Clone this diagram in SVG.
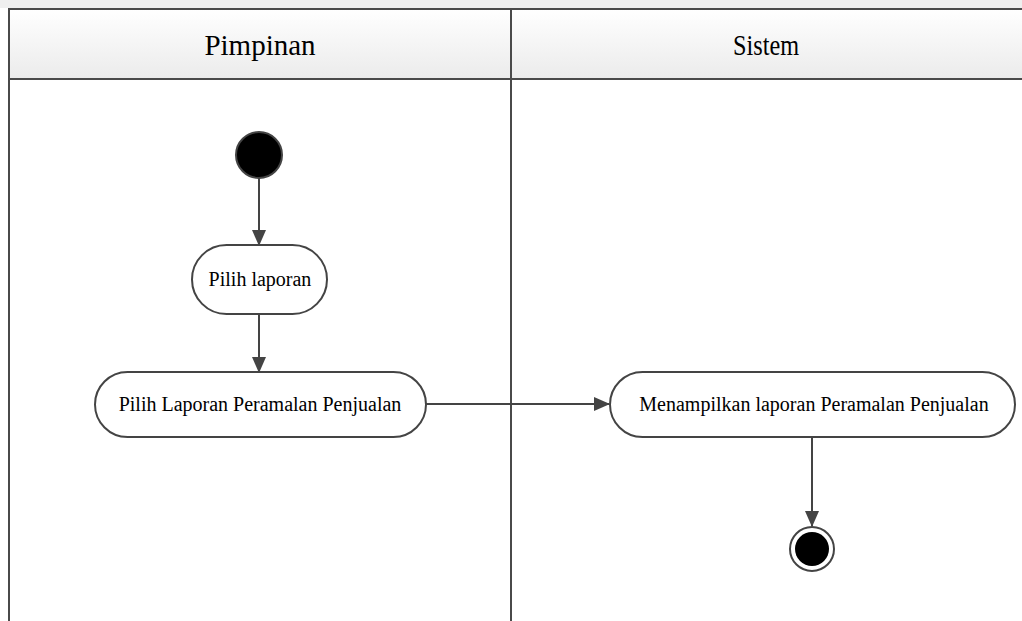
<svg xmlns="http://www.w3.org/2000/svg" width="1022" height="621" viewBox="0 0 1022 621">
  <defs>
    <linearGradient id="hdr" x1="0" y1="0" x2="0" y2="1">
      <stop offset="0" stop-color="#ffffff"/>
      <stop offset="1" stop-color="#ebebeb"/>
    </linearGradient>
    <marker id="arrow" viewBox="0 0 16 14" refX="15" refY="7" markerWidth="16" markerHeight="14" markerUnits="userSpaceOnUse" orient="auto">
      <path d="M0,0 L16,7 L0,14 Z" fill="#444444"/>
    </marker>
  </defs>
  <style>
    .lane { stroke: #4a4a4a; stroke-width: 2; fill: none; }
    .title { font-family: "Liberation Serif", "Times New Roman", serif; font-size: 29px; fill: #000; text-anchor: middle; }
    .act { fill: #ffffff; stroke: #444444; stroke-width: 2; }
    .label { font-family: "Liberation Serif", "Times New Roman", serif; font-size: 20px; fill: #000; text-anchor: middle; }
    .flow { stroke: #444444; stroke-width: 2; fill: none; marker-end: url(#arrow); }
  </style>

  <rect x="0" y="0" width="1022" height="621" fill="#ffffff"/>
  <rect x="0" y="0" width="1022" height="8" fill="#efefef"/>

  <!-- swimlane frame -->
  <g id="lanes">
    <rect x="8" y="9" width="1014" height="70" fill="url(#hdr)"/>
    <line class="lane" x1="8" y1="9" x2="1022" y2="9"/>
    <line class="lane" x1="8" y1="79" x2="1022" y2="79"/>
    <line class="lane" x1="9" y1="9" x2="9" y2="621"/>
    <line class="lane" x1="511" y1="9" x2="511" y2="621"/>
    <text class="title" x="260" y="55">Pimpinan</text>
    <text class="title" x="766" y="55" textLength="66" lengthAdjust="spacingAndGlyphs">Sistem</text>
  </g>

  <!-- connectors -->
  <g id="connectors">
    <line class="flow" x1="259" y1="178" x2="259" y2="245"/>
    <line class="flow" x1="259" y1="314" x2="259" y2="372"/>
    <line class="flow" x1="426" y1="404" x2="609" y2="404"/>
    <line class="flow" x1="812" y1="437" x2="812" y2="526"/>
  </g>

  <g id="start">
    <circle cx="259" cy="155" r="23" fill="#000000" stroke="#444444" stroke-width="2"/>
  </g>

  <g id="pilih-laporan">
    <rect class="act" x="192" y="245" width="135" height="69" rx="34.5" ry="34.5"/>
    <text class="label" x="260" y="286">Pilih laporan</text>
  </g>

  <g id="pilih-laporan-peramalan">
    <rect class="act" x="95" y="372" width="331" height="65" rx="32.5" ry="32.5"/>
    <text class="label" x="260" y="411">Pilih Laporan Peramalan Penjualan</text>
  </g>

  <g id="menampilkan-laporan">
    <rect class="act" x="610" y="372" width="405" height="65" rx="32.5" ry="32.5"/>
    <text class="label" x="814" y="411">Menampilkan laporan Peramalan Penjualan</text>
  </g>

  <g id="end">
    <circle cx="812" cy="549" r="22" fill="#ffffff" stroke="#444444" stroke-width="2"/>
    <circle cx="812" cy="549" r="17" fill="#000000"/>
  </g>
</svg>
